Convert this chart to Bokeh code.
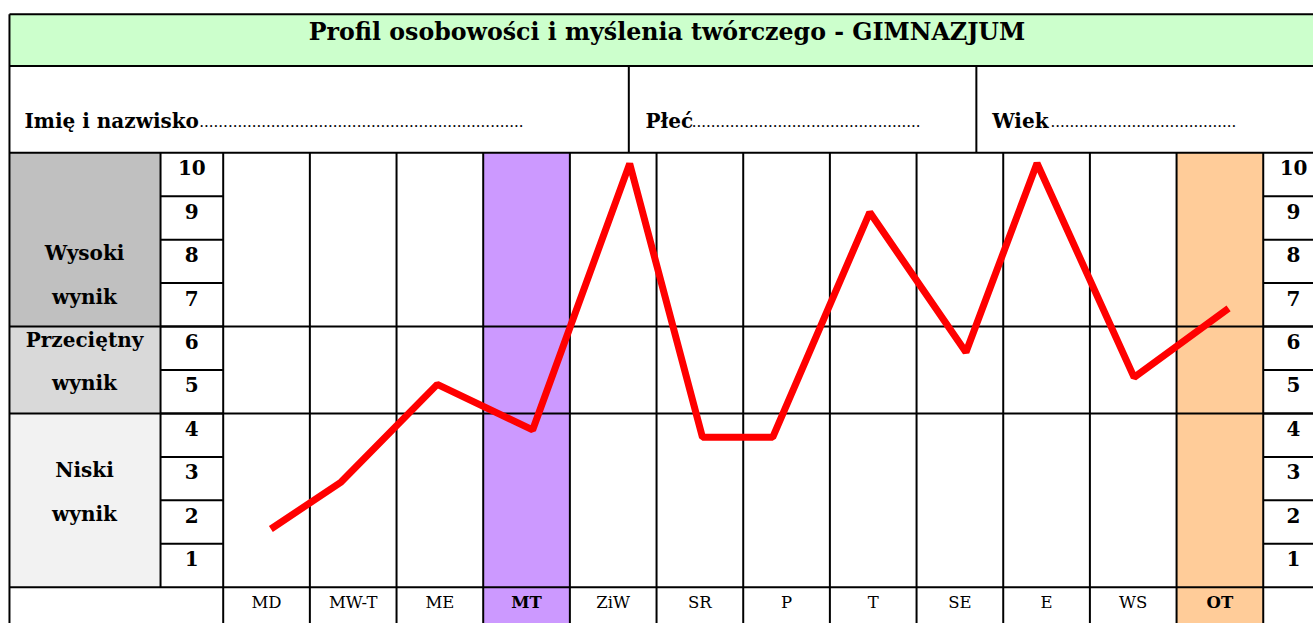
from bokeh.plotting import figure
from bokeh.models import ColumnDataSource
from bokeh.core.properties import value
from bokeh.embed import file_html
from bokeh.resources import INLINE

# ---------------- data ----------------
title = "Profil osobowości i myślenia twórczego - GIMNAZJUM"
categories = ["MD", "MW-T", "ME", "MT", "ZiW", "SR", "P", "T", "SE", "E", "WS", "OT"]
scores = [1.84, 2.92, 5.17, 4.12, 10.25, 3.95, 3.95, 9.13, 5.91, 10.26, 5.33, 6.92]
point_offsets = [0.55, 0.36, 0.47, 0.57, 0.69, 0.53, 0.34, 0.46, 0.57, 0.39, 0.51, 0.60]
scale_values = [10, 9, 8, 7, 6, 5, 4, 3, 2, 1]
band_names = ["Wysoki wynik", "Przeciętny wynik", "Niski wynik"]
band_low = [7, 5, 1]
band_high = [10, 6, 4]
band_label_rows = [[8, 7], [6, 5], [3, 2]]
band_colors = ["#C0C0C0", "#D9D9D9", "#F2F2F2"]
highlight_cats = ["MT", "OT"]
highlight_colors = ["#CC99FF", "#FFCC99"]
info_labels = ["Imię i nazwisko", "Płeć", "Wiek"]
info_dots = [68, 48, 39]

# ---------------- layout (data units: one column = 1, one score row = 1) ----------------
W, H = 1313, 623
COL_PX, ROW_PX = 86.67, 43.44
X0 = -222.7 / COL_PX
X1 = X0 + W / COL_PX
Y1 = 10.5 + 152.3 / ROW_PX
Y0 = Y1 - H / ROW_PX

X_BORDER = -2.466
X_LABEL_R = -0.723
Y_TOP = 13.69
Y_TITLE_BOT = 12.5
Y_GRID_TOP = 10.5
Y_GRID_BOT = 0.5
NC = len(categories)

p = figure(width=W, height=H, x_range=(X0, X1), y_range=(Y0, Y1),
           output_backend="svg", toolbar_location=None, min_border=0,
           x_axis_type=None, y_axis_type=None, outline_line_color=None,
           background_fill_color="white", border_fill_color="white")
p.grid.visible = False

FONT = value("DejaVu Serif")

# title background
p.quad(left=[X_BORDER], right=[X1 + 1], bottom=[Y_TITLE_BOT], top=[Y_TOP],
       fill_color="#CCFFCC", line_color=None)

# band label backgrounds
for lo, hi, col in zip(band_low, band_high, band_colors):
    p.quad(left=[X_BORDER], right=[X_LABEL_R], bottom=[lo - 0.5], top=[hi + 0.5],
           fill_color=col, line_color=None)

# highlighted columns
for cat, col in zip(highlight_cats, highlight_colors):
    i = categories.index(cat)
    p.quad(left=[i], right=[i + 1], bottom=[Y0 - 1], top=[Y_GRID_TOP],
           fill_color=col, line_color=None)

# table lines
x0s, y0s, x1s, y1s = [], [], [], []
def seg(a, b, c, d):
    x0s.append(a); y0s.append(b); x1s.append(c); y1s.append(d)

seg(X_BORDER, Y_TOP, X1 + 1, Y_TOP)
seg(X_BORDER, Y_TITLE_BOT, X1 + 1, Y_TITLE_BOT)
seg(X_BORDER, Y_GRID_TOP, X1 + 1, Y_GRID_TOP)
for hi in band_high[1:]:
    seg(X_BORDER, hi + 0.5, X1 + 1, hi + 0.5)
seg(X_BORDER, Y_GRID_BOT, X1 + 1, Y_GRID_BOT)
for v in scale_values[1:]:
    seg(X_LABEL_R, v + 0.5, 0, v + 0.5)
    seg(NC, v + 0.5, X1 + 1, v + 0.5)
seg(X_BORDER, Y0 - 1, X_BORDER, Y_TOP)
seg(X_LABEL_R, Y_GRID_BOT, X_LABEL_R, Y_GRID_TOP)
for i in range(NC + 1):
    seg(i, Y0 - 1, i, Y_GRID_TOP)
for xd in [4.68, 8.69]:
    seg(xd, Y_GRID_TOP, xd, Y_TITLE_BOT)
p.segment(x0=x0s, y0=y0s, x1=x1s, y1=y1s, line_color="black", line_width=2)

# data line
xs = [i + off for i, off in enumerate(point_offsets)]
src = ColumnDataSource(dict(x=xs, y=scores, cat=categories))
p.line("x", "y", source=src, line_color="#FF0000", line_width=7,
       line_join="bevel", line_cap="butt")

# title
p.text(x=[5.12], y=[13.276], text=[title], text_font=FONT, text_font_style="bold",
       text_font_size="23.7px", text_align="center", text_baseline="alphabetic",
       text_color="black")

# info row
info_x = [-2.293, 4.872, 8.873]
dots_end = [3.465, 8.046, 11.69]
p.text(x=info_x, y=[11.226] * 3, text=info_labels, text_font=FONT,
       text_font_style="bold", text_font_size="20px", text_align="left",
       text_baseline="alphabetic", text_color="black")
p.text(x=dots_end, y=[11.226] * 3, text=["." * n for n in info_dots], text_font=FONT,
       text_font_size="15px", text_align="right", text_baseline="alphabetic",
       text_color="black")

# scale numbers
num_txt = [str(v) for v in scale_values]
for xc in [-0.362, 12.35]:
    p.text(x=[xc] * len(scale_values), y=[v + 0.155 for v in scale_values], text=num_txt,
           text_font=FONT, text_font_style="bold", text_font_size="20px",
           text_align="center", text_baseline="alphabetic", text_color="black")

# band labels
bl_text, bl_y = [], []
for name, rows in zip(band_names, band_label_rows):
    for word, r in zip(name.split(" "), rows):
        bl_text.append(word); bl_y.append(r + 0.19)
p.text(x=[-1.6] * len(bl_text), y=bl_y, text=bl_text, text_font=FONT,
       text_font_style="bold", text_font_size="20px", text_align="center",
       text_baseline="alphabetic", text_color="black")

# category labels
reg = [c for c in categories if c not in highlight_cats]
p.text(x=[categories.index(c) + 0.5 for c in reg], y=[0.138] * len(reg), text=reg,
       text_font=FONT, text_font_size="16.5px", text_align="center",
       text_baseline="alphabetic", text_color="black")
p.text(x=[categories.index(c) + 0.5 for c in highlight_cats], y=[0.138] * len(highlight_cats),
       text=highlight_cats, text_font=FONT, text_font_style="bold", text_font_size="16.5px",
       text_align="center", text_baseline="alphabetic", text_color="black")

open("out.html", "w").write(file_html(p, INLINE))
